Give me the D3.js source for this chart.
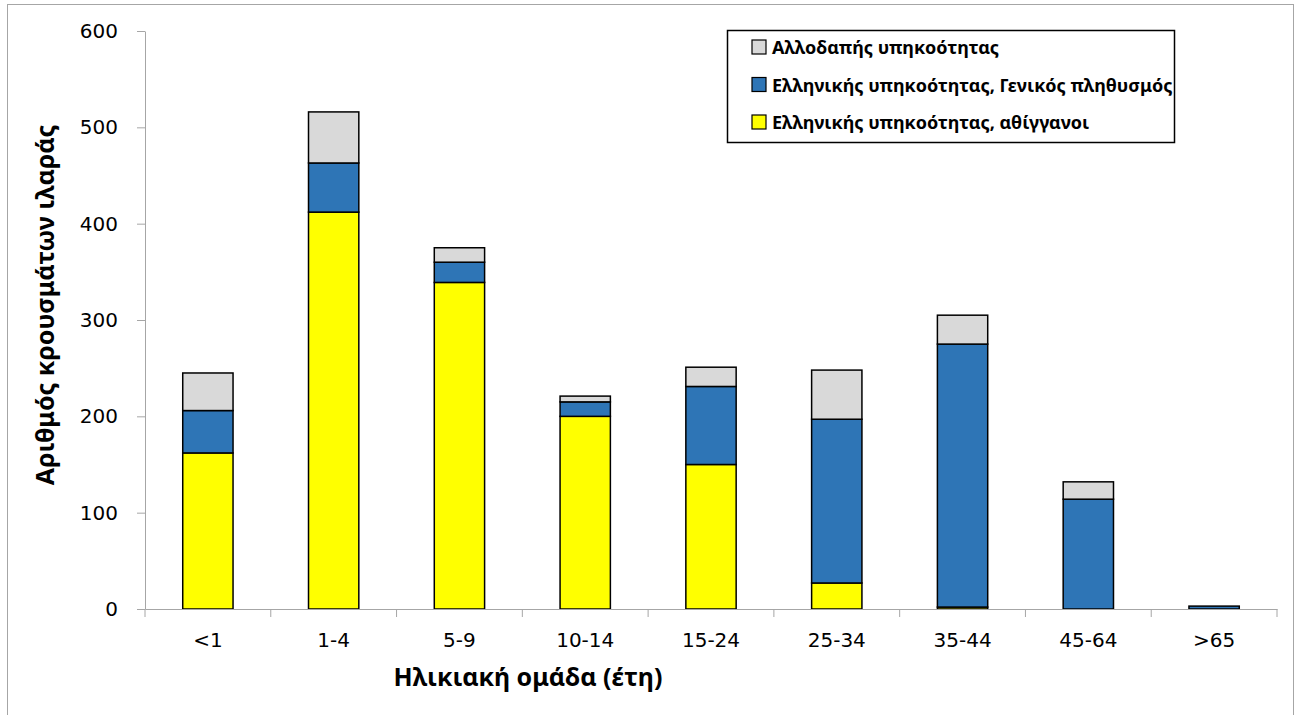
<!DOCTYPE html>
<html>
<head>
<meta charset="utf-8">
<script src="https://cdn.jsdelivr.net/npm/d3@7.9.0/dist/d3.min.js"></script>
<style>
  body { margin: 0; background: #fff; }
  svg { display: block; }
</style>
</head>
<body>
<svg id="chart" width="1301" height="715"></svg>
<script>
// Age groups and case counts per group
const ageGroups = ['<1', '1-4', '5-9', '10-14', '15-24', '25-34', '35-44', '45-64', '>65'];
const roma = [162, 412, 339, 200, 150, 27, 2, 0, 0];
const general = [44, 51, 21, 15, 81, 170, 273, 114, 3];
const foreign = [39, 53, 15, 6, 20, 51, 30, 18, 0];
const yTicks = [0, 100, 200, 300, 400, 500, 600];

// Series, bottom to top
const series = [
  { key: 'roma', label: 'Ελληνικής υπηκοότητας, αθίγγανοι', values: roma, color: '#ffff00' },
  { key: 'general', label: 'Ελληνικής υπηκοότητας, Γενικός πληθυσμός', values: general, color: '#2e75b6' },
  { key: 'foreign', label: 'Αλλοδαπής υπηκοότητας', values: foreign, color: '#d9d9d9' }
];

const table = ageGroups.map((g, i) => {
  let row = { group: g };
  series.forEach(s => { row[s.key] = s.values[i]; });
  return row;
});

const svg = d3.select('#chart');
const margin = { left: 145, right: 1277, top: 31, bottom: 609 };

// Outer frame
svg.append('rect')
  .attr('x', 7.5).attr('y', 4.5)
  .attr('width', 1286).attr('height', 720)
  .attr('fill', 'none').attr('stroke', '#a6a6a6');

const x = d3.scaleBand()
  .domain(ageGroups)
  .range([margin.left, margin.right])
  .paddingInner(0.6)
  .paddingOuter(0.3);

const y = d3.scaleLinear()
  .domain([0, 600])
  .range([margin.bottom, margin.top]);

const stack = d3.stack().keys(series.map(s => s.key));
const stacked = stack(table);
const colorOf = {};
series.forEach(s => { colorOf[s.key] = s.color; });

// Bars
svg.append('g')
  .selectAll('g')
  .data(stacked)
  .join('g')
  .attr('fill', d => colorOf[d.key])
  .selectAll('rect')
  .data(d => d)
  .join('rect')
  .attr('x', d => x(d.data.group))
  .attr('y', d => y(d[1]))
  .attr('width', x.bandwidth())
  .attr('height', d => y(d[0]) - y(d[1]))
  .attr('stroke', '#000')
  .attr('stroke-width', 1.5)
  .attr('display', d => d[1] - d[0] > 0 ? null : 'none');

// Y axis
const yAxis = svg.append('g')
  .attr('transform', `translate(${margin.left},0)`)
  .call(d3.axisLeft(y).tickValues(yTicks).tickSize(8).tickSizeOuter(0));
yAxis.select('.domain').attr('stroke', '#a6a6a6');
yAxis.selectAll('.tick line').attr('stroke', '#a6a6a6');
yAxis.selectAll('.tick text')
  .attr('x', -27)
  .attr('font-family', 'DejaVu Sans, Verdana, sans-serif')
  .attr('font-size', 20)
  .attr('fill', '#000');

// X axis
const xAxis = svg.append('g')
  .attr('transform', `translate(0,${margin.bottom})`)
  .call(d3.axisBottom(x).tickSize(0).tickSizeOuter(0));
xAxis.select('.domain').attr('stroke', '#a6a6a6');
xAxis.selectAll('.tick text')
  .attr('y', 24)
  .attr('font-family', 'DejaVu Sans, Verdana, sans-serif')
  .attr('font-size', 20)
  .attr('fill', '#000');

// Category boundary ticks
const bounds = d3.range(ageGroups.length + 1).map(i => margin.left + i * (margin.right - margin.left) / ageGroups.length);
svg.append('g')
  .selectAll('line')
  .data(bounds)
  .join('line')
  .attr('x1', d => d).attr('x2', d => d)
  .attr('y1', margin.bottom).attr('y2', margin.bottom + 8)
  .attr('stroke', '#a6a6a6');

// Axis titles
svg.append('text')
  .attr('transform', `translate(54,305) rotate(-90)`)
  .attr('text-anchor', 'middle')
  .attr('font-family', 'Noto Sans, sans-serif')
  .attr('font-weight', 'bold')
  .attr('font-size', 25)
  .text('Αριθμός κρουσμάτων ιλαράς');

svg.append('text')
  .attr('x', 528).attr('y', 686)
  .attr('text-anchor', 'middle')
  .attr('font-family', 'Noto Sans, sans-serif')
  .attr('font-weight', 'bold')
  .attr('font-size', 25)
  .text('Ηλικιακή ομάδα (έτη)');

// Legend
const legend = svg.append('g');
legend.append('rect')
  .attr('x', 727.5).attr('y', 30.5)
  .attr('width', 447).attr('height', 112)
  .attr('fill', '#fff').attr('stroke', '#000').attr('stroke-width', 1.5);

const legendItems = series.slice().reverse();
const li = legend.selectAll('g.item')
  .data(legendItems)
  .join('g')
  .attr('class', 'item')
  .attr('transform', (d, i) => `translate(752,${47 + i * 37.5})`);
li.append('rect')
  .attr('x', 0).attr('y', -7)
  .attr('width', 14).attr('height', 14)
  .attr('fill', d => d.color)
  .attr('stroke', '#000').attr('stroke-width', 1.2);
li.append('text')
  .attr('x', 20).attr('y', 7)
  .attr('font-family', 'Noto Sans, sans-serif')
  .attr('font-weight', 'bold')
  .attr('font-size', 18)
  .text(d => d.label);
</script>
</body>
</html>
